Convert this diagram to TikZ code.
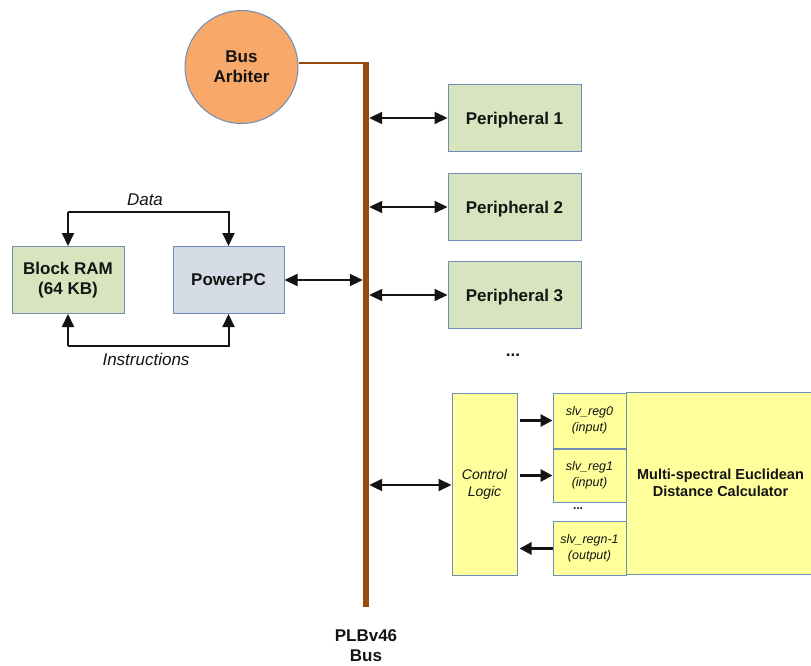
\documentclass[tikz,border=0pt]{standalone}
\usepackage{fontspec}
\setmainfont{Liberation Sans}
\usetikzlibrary{arrows.meta}
\definecolor{busbrown}{HTML}{9A4A0C}
\definecolor{edgeblue}{HTML}{6F8DB6}
\definecolor{arbfill}{HTML}{F8A868}
\definecolor{greenfill}{HTML}{D7E4BD}
\definecolor{cpufill}{HTML}{D6DCE5}
\definecolor{yelfill}{HTML}{FFFF9B}
\definecolor{ink}{HTML}{141414}
\tikzset{
  blk/.style={draw=edgeblue, line width=1pt, rectangle, inner sep=0pt, align=center, text=ink},
  lbl/.style={font=\fontsize{17}{20}\selectfont\bfseries},
  tip/.tip={Triangle[length=13pt,width=12pt]},
  conn/.style={draw=ink, line width=2pt, tip-tip},
  oneway/.style={draw=ink, line width=2pt, -tip},
  regarrow/.style={draw=ink, line width=3pt, -{Triangle[length=12pt,width=12pt]}},
  reglbl/.style={font=\fontsize{12.5}{16}\selectfont\itshape},
}
\begin{document}
\begin{tikzpicture}[x=1pt,y=-1pt]
\useasboundingbox (0,0) rectangle (811,666);

% system bus
\node[fill=busbrown, rectangle, inner sep=0pt, minimum width=6pt, minimum height=545pt] (bus) at (366,334.5) {};
\node[font=\fontsize{17}{20}\selectfont\bfseries, align=center, text=ink] (buslbl) at (366,646) {PLBv46\\Bus};

% bus arbiter
\node[circle, draw=edgeblue, line width=1pt, fill=arbfill, minimum size=113pt, inner sep=0pt, align=center, text=ink, lbl] (arb) at (241.5,67) {Bus\\Arbiter};
\coordinate (bustop) at (366,63);
\draw[busbrown, line width=1.6pt] (arb.east |- bustop) -- (bustop);

% peripherals
\node[blk, fill=greenfill, minimum width=133pt, minimum height=67pt, lbl, text depth=0pt] (p1) at (514.5,118) {Peripheral 1};
\node[blk, fill=greenfill, minimum width=133pt, minimum height=67pt, lbl, text depth=0pt] (p2) at (514.5,207) {Peripheral 2};
\node[blk, fill=greenfill, minimum width=133pt, minimum height=67pt, lbl, text depth=0pt] (p3) at (514.5,295) {Peripheral 3};
\node[lbl, text=ink] (pdots) at (513,355) {...};
\foreach \p in {p1,p2,p3} \draw[conn] (bus.east |- \p) -- (\p.west);

% processor and memory
\node[blk, fill=greenfill, minimum width=112pt, minimum height=67pt, lbl] (bram) at (68,280) {Block RAM\\(64 KB)};
\node[blk, fill=cpufill, minimum width=111pt, minimum height=67pt, lbl, text depth=0pt] (ppc) at (228.5,280) {PowerPC};
\draw[conn] (ppc.east) -- (bus.west |- ppc);
\draw[oneway] (bram.north) ++(0,-34) coordinate (dl) -- (bram.north);
\draw[oneway] (dl) -| (ppc.north);
\draw[oneway] (bram.south) ++(0,32) coordinate (il) -- (bram.south);
\draw[oneway] (il) -| (ppc.south);
\node[font=\fontsize{17}{20}\selectfont\itshape, text=ink] (data) at (145,200) {Data};
\node[font=\fontsize{17}{20}\selectfont\itshape, text=ink] (instr) at (146,359) {Instructions};

% custom peripheral
\node[blk, fill=yelfill, minimum width=65pt, minimum height=182pt, font=\fontsize{14}{17}\selectfont\itshape] (ctl) at (484.5,484) {Control\\Logic};
\draw[conn] (bus.east |- 0,485) -- (ctl.west |- 0,485);
\node[blk, fill=yelfill, minimum width=189pt, minimum height=182pt, font=\fontsize{14.5}{17}\selectfont\bfseries] (calc) at (720.5,483) {Multi-spectral Euclidean\\Distance Calculator};
\node[blk, fill=yelfill, minimum width=73pt, minimum height=55pt, reglbl] (r0) at (589.5,420.5) {slv\_reg0\\(input)};
\node[blk, fill=yelfill, minimum width=73pt, minimum height=53pt, reglbl] (r1) at (589.5,475.5) {slv\_reg1\\(input)};
\node[blk, fill=yelfill, minimum width=73pt, minimum height=54pt, reglbl] (rn) at (589.5,548.5) {slv\_regn-1\\(output)};
\node[font=\fontsize{12}{13}\selectfont\bfseries, text=ink] (rdots) at (578,509) {...};
\draw[regarrow, shorten <=2pt] (ctl.east |- r0) -- (r0.west);
\draw[regarrow, shorten <=2pt] (ctl.east |- r1) -- (r1.west);
\draw[regarrow, shorten >=2pt] (rn.west) -- (ctl.east |- rn);
\end{tikzpicture}
\end{document}
